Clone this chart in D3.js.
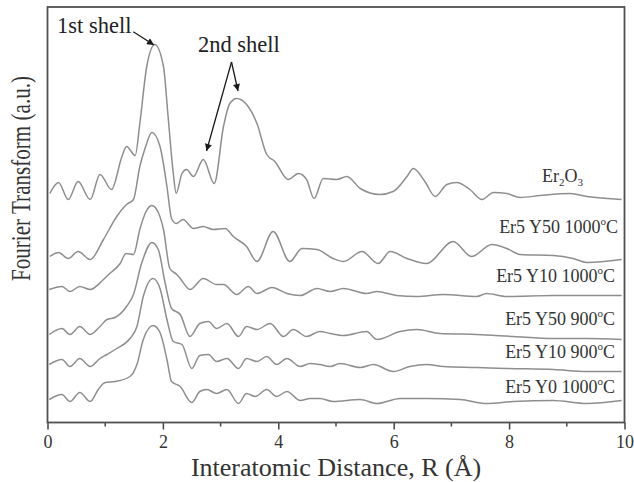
<!DOCTYPE html>
<html><head><meta charset="utf-8">
<script src="https://cdn.jsdelivr.net/npm/d3@7"></script>
<style>html,body{margin:0;padding:0;background:#fff;} svg{display:block;}</style>
</head><body><svg id="c" width="634" height="482"></svg>
<script>
// ---------- data (R in Å, FT magnitude in a.u., curves offset as plotted) ----------
const seriesNames = ["Er2O3", "Er5 Y50 1000", "Er5 Y10 1000", "Er5 Y50 900", "Er5 Y10 900", "Er5 Y0 1000"];

const rEr2O3  = [0.04,0.19,0.36,0.53,0.74,0.91,1.11,1.29,1.37,1.52,1.60,1.72,1.86,2.01,2.09,2.18,2.23,2.33,2.41,2.53,2.70,2.89,3.05,3.16,3.28,3.45,3.63,3.80,3.94,4.17,4.35,4.49,4.62,4.78,5.01,5.19,5.42,5.76,5.99,6.23,6.34,6.54,6.72,6.92,7.09,7.32,7.53,7.73,7.96,8.19,8.54,9.06,9.35,9.95];
const ftEr2O3 = [2.29,2.40,2.23,2.41,2.23,2.48,2.33,2.66,2.76,2.67,2.99,3.56,3.78,3.56,3.06,2.49,2.29,2.49,2.53,2.46,2.63,2.39,2.96,3.19,3.24,3.18,2.99,2.68,2.61,2.43,2.49,2.43,2.24,2.44,2.43,2.46,2.34,2.28,2.31,2.46,2.54,2.41,2.26,2.38,2.40,2.33,2.23,2.30,2.29,2.25,2.27,2.29,2.26,2.23];

const rY50_1000  = [0.04,0.19,0.36,0.53,0.74,0.97,1.20,1.37,1.49,1.60,1.69,1.81,1.95,2.07,2.15,2.23,2.35,2.53,2.70,2.87,3.08,3.22,3.45,3.63,3.91,4.20,4.41,4.67,4.95,5.13,5.45,5.73,5.94,6.23,6.57,7.03,7.35,7.70,7.96,8.19,8.77,9.11,9.35,9.95];
const ftY50_1000 = [1.66,1.70,1.64,1.71,1.63,1.83,2.06,2.18,2.23,2.56,2.74,2.90,2.76,2.36,2.04,1.99,2.03,1.94,1.96,1.93,1.94,1.86,1.76,1.61,1.91,1.61,1.74,1.73,1.64,1.61,1.71,1.59,1.71,1.64,1.59,1.81,1.66,1.78,1.74,1.68,1.67,1.64,1.60,1.63];

const rY10_1000  = [0.03,0.25,0.39,0.56,0.74,0.97,1.08,1.26,1.36,1.49,1.60,1.70,1.81,1.92,2.01,2.12,2.24,2.30,2.47,2.70,2.93,3.05,3.28,3.48,3.63,3.89,4.15,4.38,4.67,4.90,5.13,5.53,5.71,6.05,6.40,6.86,7.44,7.61,7.96,8.77,9.95];
const ftY10_1000 = [1.33,1.36,1.31,1.36,1.33,1.43,1.49,1.59,1.69,1.68,1.93,2.10,2.17,2.10,1.93,1.54,1.48,1.44,1.33,1.44,1.38,1.38,1.28,1.36,1.29,1.35,1.29,1.27,1.34,1.31,1.34,1.29,1.31,1.27,1.26,1.28,1.26,1.29,1.26,1.27,1.27];

const rY50_900  = [0.03,0.25,0.39,0.56,0.74,0.91,1.03,1.17,1.37,1.49,1.63,1.81,1.92,2.04,2.15,2.30,2.47,2.64,2.79,2.93,3.11,3.31,3.45,3.63,3.86,4.09,4.26,4.49,4.72,4.90,5.13,5.53,5.71,6.11,6.40,6.80,7.44,8.07,8.77,9.35,9.95];
const ftY50_900 = [0.88,0.94,0.88,0.96,0.88,0.96,1.03,1.05,1.16,1.28,1.59,1.80,1.73,1.39,1.14,1.08,0.86,0.99,1.01,0.94,0.99,0.86,0.96,0.93,0.99,0.86,0.93,0.86,0.91,0.89,0.87,0.91,0.83,0.91,0.93,0.89,0.88,0.86,0.84,0.84,0.83];

const rY10_900  = [0.03,0.25,0.39,0.56,0.74,0.91,1.03,1.20,1.43,1.55,1.66,1.83,1.95,2.07,2.18,2.33,2.50,2.64,2.79,2.93,3.11,3.31,3.45,3.63,3.80,3.97,4.15,4.38,4.55,4.72,4.90,5.07,5.42,5.65,5.99,6.28,6.57,6.86,7.44,7.96,8.77,9.35,9.95];
const ftY10_900 = [0.58,0.63,0.56,0.64,0.56,0.64,0.68,0.74,0.84,0.96,1.26,1.44,1.34,1.03,0.81,0.78,0.54,0.67,0.68,0.61,0.64,0.54,0.64,0.61,0.66,0.58,0.64,0.56,0.59,0.58,0.56,0.59,0.55,0.58,0.51,0.56,0.58,0.56,0.55,0.54,0.53,0.51,0.51];

const rY0_1000  = [0.03,0.25,0.39,0.56,0.74,0.88,1.00,1.17,1.43,1.55,1.66,1.83,1.95,2.07,2.15,2.30,2.50,2.64,2.76,2.93,3.11,3.31,3.45,3.60,3.80,3.97,4.15,4.38,4.55,4.72,4.95,5.42,5.71,6.11,6.57,7.15,7.61,8.07,8.76,9.35,9.95];
const ftY0_1000 = [0.23,0.28,0.21,0.30,0.21,0.33,0.40,0.41,0.46,0.58,0.83,0.97,0.90,0.63,0.41,0.36,0.20,0.31,0.33,0.29,0.33,0.19,0.29,0.26,0.33,0.26,0.31,0.22,0.24,0.24,0.21,0.23,0.19,0.24,0.24,0.23,0.19,0.21,0.22,0.19,0.22];

const xTickValues = [0, 2, 4, 6, 8, 10];
const xMinorTicks = [1, 3, 5, 7, 9];

// ---------- drawing ----------
const svg = d3.select("#c");
const FONT = "'Liberation Serif','Times New Roman',serif";
const x = d3.scaleLinear().domain([0, 10]).range([47.5, 624.5]);
const y = d3.scaleLinear().domain([0, 4.155]).range([422.5, 7]);

const series = [
  [rEr2O3, ftEr2O3], [rY50_1000, ftY50_1000], [rY10_1000, ftY10_1000],
  [rY50_900, ftY50_900], [rY10_900, ftY10_900], [rY0_1000, ftY0_1000]
].map(([r, f], i) => ({ name: seriesNames[i], pts: r.map((v, j) => [v, f[j]]) }));

svg.append("defs").append("clipPath").attr("id", "clip")
  .append("rect").attr("x", x(0)).attr("y", y(4.155))
  .attr("width", x(10) - x(0)).attr("height", y(0) - y(4.155));

const line = d3.line().x(d => x(d[0])).y(d => y(d[1])).curve(d3.curveMonotoneX);
svg.append("g").attr("clip-path", "url(#clip)")
  .selectAll("path").data(series).join("path")
  .attr("d", d => line(d.pts))
  .attr("fill", "none").attr("stroke", "#8e8e8e").attr("stroke-width", 1.5)
  .attr("stroke-linejoin", "round");

// bottom axis
const gx = svg.append("g").attr("transform", `translate(0,${y(0)})`);
gx.call(d3.axisBottom(x).tickValues(xTickValues).tickSize(7).tickFormat(d3.format("d")).tickPadding(5))
  .call(g => g.select(".domain").remove());
gx.selectAll(".tick line").attr("stroke", "#444").attr("stroke-width", 1.5);
gx.selectAll(".tick text").attr("font-family", FONT).attr("font-size", 18).attr("fill", "#333").attr("dy", "0.74em");
gx.append("g").selectAll("line").data(xMinorTicks).join("line")
  .attr("x1", d => x(d)).attr("x2", d => x(d)).attr("y1", 0).attr("y2", 4)
  .attr("stroke", "#444").attr("stroke-width", 1.5);

// frame
svg.append("rect").attr("x", x(0)).attr("y", y(4.155))
  .attr("width", x(10) - x(0)).attr("height", y(0) - y(4.155))
  .attr("fill", "none").attr("stroke", "#505050").attr("stroke-width", 1.8);

// axis titles
svg.append("text").attr("x", (x(0) + x(10)) / 2).attr("y", 476)
  .attr("text-anchor", "middle").attr("font-family", FONT).attr("font-size", 26).attr("fill", "#333")
  .text("Interatomic Distance, R (Å)");
svg.append("text").attr("transform", "translate(30,178.5) rotate(-90)")
  .attr("text-anchor", "middle").attr("font-family", FONT).attr("font-size", 27).attr("fill", "#333")
  .attr("textLength", 205).attr("lengthAdjust", "spacingAndGlyphs")
  .text("Fourier Transform (a.u.)");

// series labels
const labelPos = [[9.28, 2.405], [9.887, 1.895], [9.835, 1.408], [9.835, 0.975], [9.835, 0.642], [9.835, 0.292]];
series.forEach((s, i) => {
  const t = svg.append("text").attr("x", x(labelPos[i][0])).attr("y", y(labelPos[i][1]))
    .attr("text-anchor", "end").attr("font-family", FONT).attr("font-size", 18).attr("fill", "#333");
  if (i === 0) {
    t.append("tspan").text("Er");
    t.append("tspan").attr("font-size", 11).attr("dy", 4).text("2");
    t.append("tspan").attr("dy", -4).text("O");
    t.append("tspan").attr("font-size", 11).attr("dy", 4).text("3");
  } else {
    t.append("tspan").text(s.name);
    t.append("tspan").attr("font-size", 11).attr("dy", -8).text("o");
    t.append("tspan").attr("dy", 8).text("C");
  }
});

// annotations
const mk = svg.select("defs").append("marker").attr("id", "ah")
  .attr("viewBox", "0 0 10 10").attr("refX", 10).attr("refY", 5)
  .attr("markerWidth", 9).attr("markerHeight", 7).attr("markerUnits", "userSpaceOnUse")
  .attr("orient", "auto");
mk.append("path").attr("d", "M0,0 L10,5 L0,10 Z").attr("fill", "#1a1a1a");

svg.append("text").attr("x", x(0.165)).attr("y", y(3.895))
  .attr("font-family", FONT).attr("font-size", 22.5).attr("fill", "#222").text("1st shell");
svg.append("text").attr("x", x(2.608)).attr("y", y(3.705))
  .attr("font-family", FONT).attr("font-size", 22.5).attr("fill", "#222").text("2nd shell");

const arrows = [
  [[1.487, 3.908], [1.846, 3.775]],
  [[3.189, 3.605], [3.302, 3.315]],
  [[3.189, 3.605], [2.756, 2.715]]
];
svg.append("g").selectAll("line").data(arrows).join("line")
  .attr("x1", d => x(d[0][0])).attr("y1", d => y(d[0][1]))
  .attr("x2", d => x(d[1][0])).attr("y2", d => y(d[1][1]))
  .attr("stroke", "#1a1a1a").attr("stroke-width", 1.3).attr("marker-end", "url(#ah)");
</script></body></html>
